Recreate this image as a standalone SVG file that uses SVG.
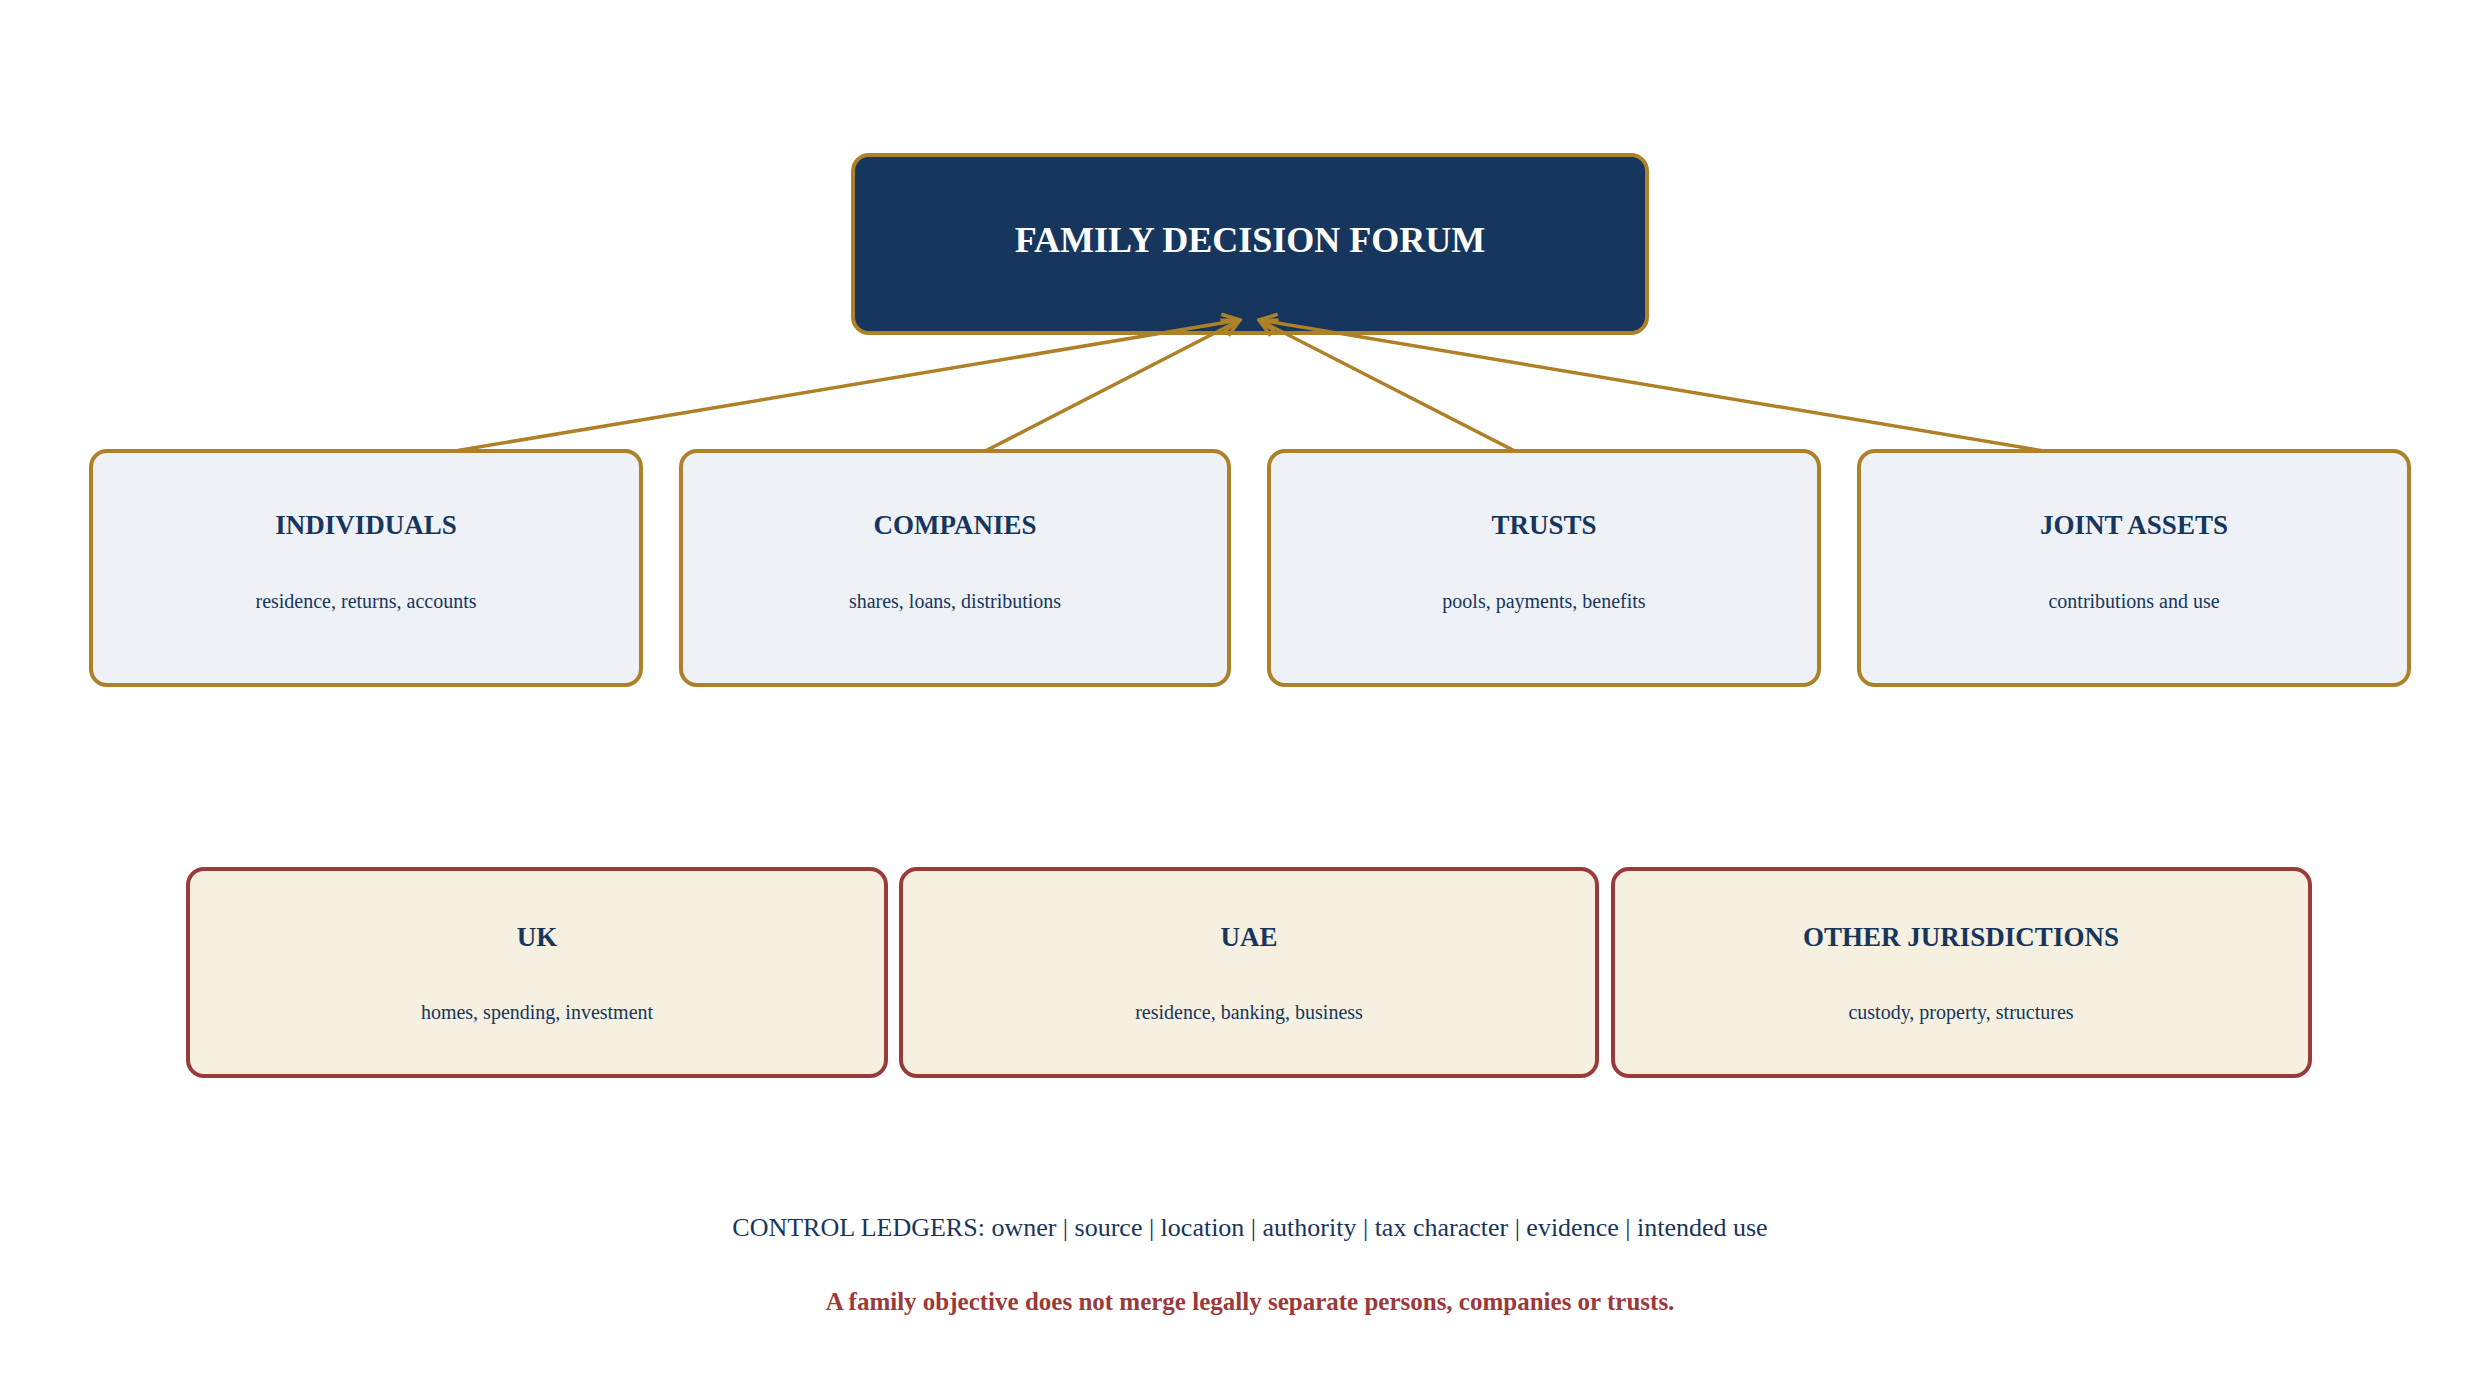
<svg xmlns="http://www.w3.org/2000/svg" width="2486" height="1386" viewBox="0 0 2486 1386">
<defs>
<style>
text{font-family:"Liberation Serif","Times New Roman",serif;text-anchor:middle;fill:#17365d}
.ent{fill:#eef1f6;stroke:#ae8027;stroke-width:4}
.jur{fill:#f5f0df;stroke:#9b3a3a;stroke-width:4}
.t{font-size:27px;font-weight:bold}
.s{font-size:20px}
.c{stroke:#ae8027;stroke-width:3.5;fill:none;marker-end:url(#a)}
</style>
<marker id="a" viewBox="0 0 12 12" refX="11" refY="6" markerWidth="6" markerHeight="6" orient="auto" markerUnits="strokeWidth"><path d="M1 1 L11 6 L1 11" fill="none" stroke="#ae8027" stroke-width="2"/></marker>
</defs>
<rect width="2486" height="1386" fill="#fff"/>
<g id="forum"><rect x="853" y="155" width="794" height="178" rx="16" fill="#17365d" stroke="#ae8027" stroke-width="4"/><text x="1250" y="252" style="font-size:36px;font-weight:bold;fill:#fff">FAMILY DECISION FORUM</text></g>
<g id="connectors">
<path class="c" d="M371 465 L1240 320"/>
<path class="c" d="M960 464 L1240 320"/>
<path class="c" d="M1540 464 L1259 320"/>
<path class="c" d="M2128 465 L1259 320"/>
</g>
<g id="individuals"><rect class="ent" x="91" y="451" width="550" height="234" rx="16"/><text class="t" x="366" y="534">INDIVIDUALS</text><text class="s" x="366" y="608">residence, returns, accounts</text></g>
<g id="companies"><rect class="ent" x="681" y="451" width="548" height="234" rx="16"/><text class="t" x="955" y="534">COMPANIES</text><text class="s" x="955" y="608">shares, loans, distributions</text></g>
<g id="trusts"><rect class="ent" x="1269" y="451" width="550" height="234" rx="16"/><text class="t" x="1544" y="534">TRUSTS</text><text class="s" x="1544" y="608">pools, payments, benefits</text></g>
<g id="joint"><rect class="ent" x="1859" y="451" width="550" height="234" rx="16"/><text class="t" x="2134" y="534">JOINT ASSETS</text><text class="s" x="2134" y="608">contributions and use</text></g>
<g id="uk"><rect class="jur" x="188" y="869" width="698" height="207" rx="16"/><text class="t" x="537" y="946">UK</text><text class="s" x="537" y="1019">homes, spending, investment</text></g>
<g id="uae"><rect class="jur" x="901" y="869" width="696" height="207" rx="16"/><text class="t" x="1249" y="946">UAE</text><text class="s" x="1249" y="1019">residence, banking, business</text></g>
<g id="other"><rect class="jur" x="1613" y="869" width="697" height="207" rx="16"/><text class="t" x="1961" y="946">OTHER JURISDICTIONS</text><text class="s" x="1961" y="1019">custody, property, structures</text></g>
<text x="1250" y="1236" style="font-size:26px">CONTROL LEDGERS: owner  |  source  |  location  |  authority  |  tax character  |  evidence  |  intended use</text>
<text x="1250" y="1310" style="font-size:25px;font-weight:bold;fill:#9b3a3a">A family objective does not merge legally separate persons, companies or trusts.</text>
</svg>
